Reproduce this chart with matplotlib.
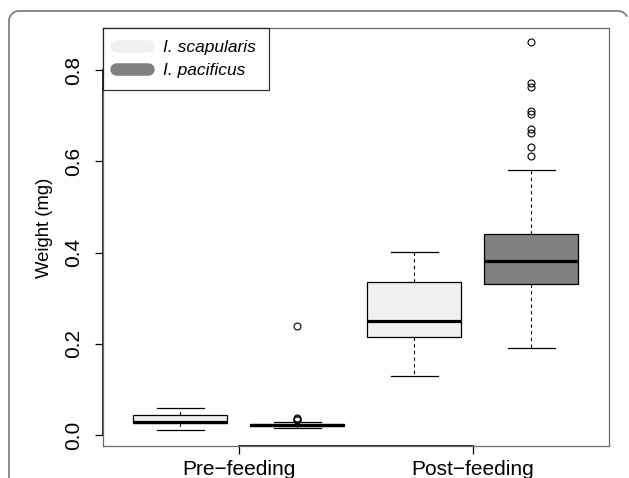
import matplotlib
matplotlib.use("Agg")
import numpy as np
import matplotlib.pyplot as plt
from matplotlib.lines import Line2D
from matplotlib.transforms import IdentityTransform

plt.rcParams['font.family'] = ['Liberation Sans', 'DejaVu Sans']
plt.rcParams['path.simplify'] = False

# data (weights in mg)
groups = ['Pre\u2212feeding', 'Post\u2212feeding']
species = ['I. scapularis', 'I. pacificus']
colors = ['#eff0ef', '#808080']

# five-number summaries: whislo, q1, med, q3, whishi
pre_scap = [0.011, 0.026, 0.028, 0.044, 0.059]
pre_paci = [0.016, 0.020, 0.022, 0.025, 0.029]
post_scap = [0.130, 0.216, 0.251, 0.336, 0.402]
post_paci = [0.191, 0.331, 0.382, 0.441, 0.582]

pre_scap_out = []
pre_paci_out = [0.240, 0.037, 0.035, 0.033]
post_scap_out = []
post_paci_out = [0.862, 0.771, 0.764, 0.711, 0.703, 0.670, 0.663, 0.632, 0.612]

summaries = [pre_scap, pre_paci, post_scap, post_paci]
outliers = [pre_scap_out, pre_paci_out, post_scap_out, post_paci_out]
box_colors = [colors[0], colors[1], colors[0], colors[1]]
positions = [1, 2, 3, 4]
group_ticks = [1.5, 3.5]
yticks = [0.0, 0.2, 0.4, 0.6, 0.8]

fig = plt.figure(figsize=(6.29, 4.78), dpi=100)
ax = fig.add_axes([103 / 629, 32 / 478, 506 / 629, 418.5 / 478])

stats = []
for s, out in zip(summaries, outliers):
    stats.append(dict(whislo=s[0], q1=s[1], med=s[2], q3=s[3], whishi=s[4], fliers=out))

bp = ax.bxp(stats, positions=positions, widths=0.8, patch_artist=True,
            showfliers=True,
            boxprops=dict(linewidth=0.9, edgecolor='black'),
            medianprops=dict(color='black', linewidth=2.3, solid_capstyle='butt'),
            whiskerprops=dict(color='black', linewidth=0.8, linestyle=(0, (3, 3))),
            capprops=dict(color='black', linewidth=0.9),
            capwidths=0.4,
            flierprops=dict(marker='o', markersize=5, markerfacecolor='none',
                            markeredgecolor='black', markeredgewidth=0.8))
for patch, c in zip(bp['boxes'], box_colors):
    patch.set_facecolor(c)

ax.set_xlim(0.34, 4.665)
ax.set_ylim(-0.0241, 0.8936)

for sp in ax.spines.values():
    sp.set_color('#6a6a6a')
    sp.set_linewidth(0.9)

# R style axis lines between the outer ticks
ax.plot([group_ticks[0], group_ticks[-1]], [-0.0241, -0.0241], color='black',
        lw=1.2, clip_on=False)
ax.plot([0.34, 0.34], [yticks[0], yticks[-1]], color='black', lw=1.2, clip_on=False)

ax.set_xticks(group_ticks)
ax.set_xticklabels(groups, fontsize=15)
ax.set_yticks(yticks)
ax.set_yticklabels(['%.1f' % v for v in yticks], fontsize=15, rotation=90, va='center')
ax.tick_params(axis='both', direction='out', length=6, width=0.9, color='black')
ax.tick_params(axis='x', pad=4)
ax.tick_params(axis='y', pad=8)
ax.set_ylabel('Weight (mg)', fontsize=13.3)
ax.yaxis.set_label_coords(-0.099, 0.521)

handles = [Line2D([], [], color=c, lw=9, solid_capstyle='round') for c in colors]
leg = ax.legend(handles, species, loc='upper left', borderaxespad=0, fancybox=False,
                prop=dict(size=12.5, style='italic'), handlelength=1.9,
                handletextpad=0.85, borderpad=0.72, labelspacing=0.42)
leg.get_frame().set_edgecolor('black')
leg.get_frame().set_linewidth(0.9)

# outer rounded frame of the page, in pixels (origin bottom-left), kept inside the canvas
r = 10
left, top = 9, 467
t = np.linspace(0, np.pi / 2, 16)
t2 = np.linspace(0, np.pi / 3, 12)
fx = np.concatenate([[left], left + r - r * np.cos(t), [618], 618 + r * np.sin(t2)])
fy = np.concatenate([[0.5], top - r + r * np.sin(t), [top], top - r + r * np.cos(t2)])
fig.add_artist(Line2D(fx, fy, transform=IdentityTransform(), color='#777777', lw=1.2))

fig.savefig('out.png', dpi=100)
